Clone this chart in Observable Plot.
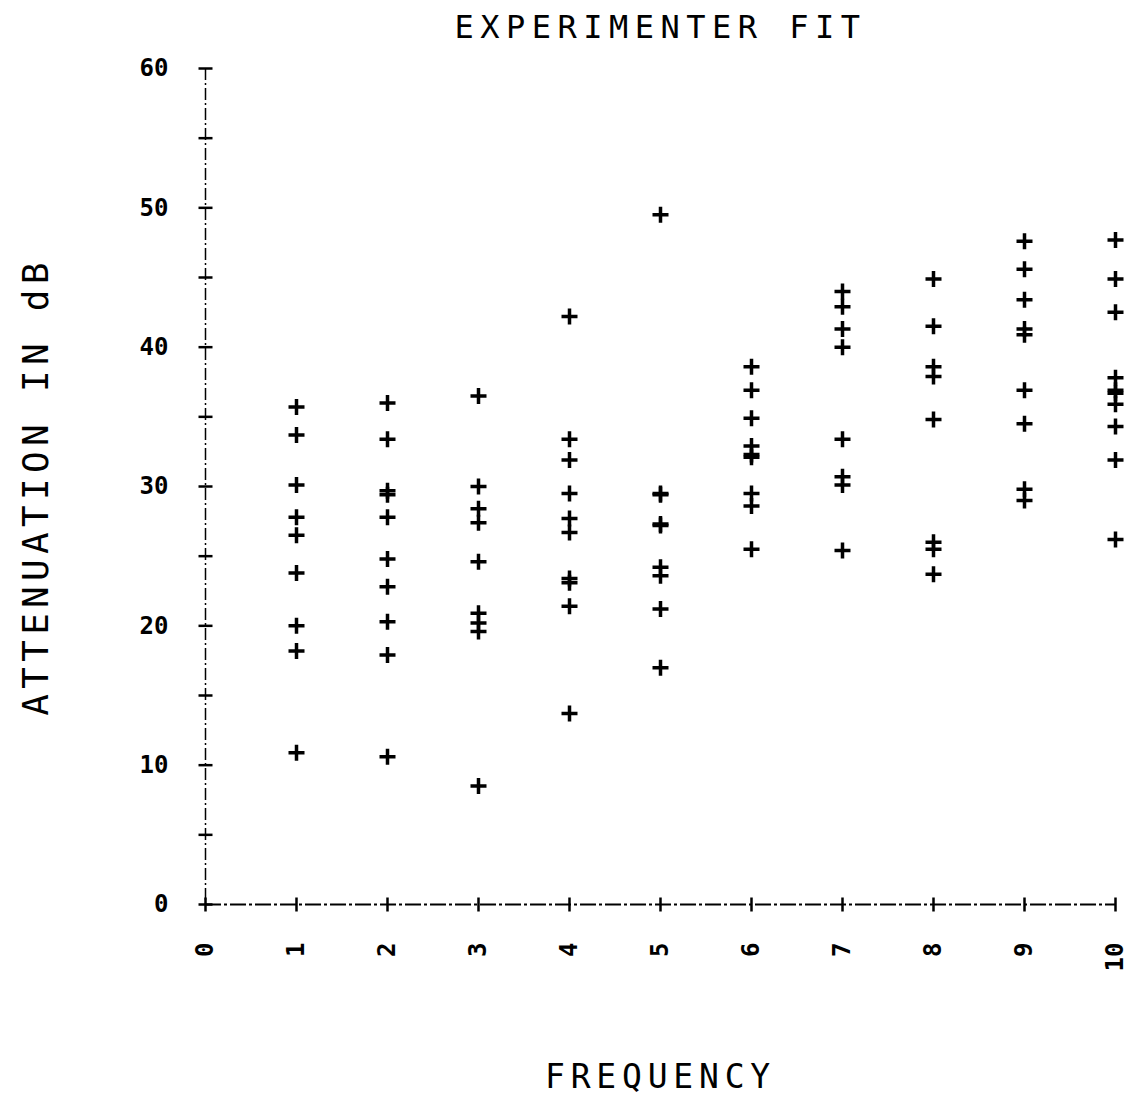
<!DOCTYPE html>
<html>
<head>
<meta charset="utf-8">
<script src="https://cdn.jsdelivr.net/npm/d3@7"></script>
<script src="https://cdn.jsdelivr.net/npm/@observablehq/plot@0.6"></script>
<style>
  html, body { margin: 0; padding: 0; background: #fff; }
  #chart svg { display: block; }
  g[aria-label="y-axis label"] text { letter-spacing: 5.3px; }
  g[aria-label="x-axis label"] text { letter-spacing: 5.8px; }
  g[aria-label="text"] text { letter-spacing: 6.5px; }
</style>
</head>
<body>
<div id="chart"></div>
<script>
// ---- data ----
const frequencies = [1, 2, 3, 4, 5, 6, 7, 8, 9, 10];
const atten1  = [35.7, 33.7, 30.1, 27.8, 26.5, 23.8, 20.0, 18.2, 10.9];
const atten2  = [36.0, 33.4, 29.7, 29.4, 27.8, 24.8, 22.8, 20.3, 17.9, 10.6];
const atten3  = [36.5, 30.0, 28.4, 27.4, 24.6, 20.9, 20.2, 19.6, 8.5];
const atten4  = [42.2, 33.4, 31.9, 29.5, 27.7, 26.7, 23.4, 23.1, 21.4, 13.7];
const atten5  = [49.5, 29.5, 29.4, 27.3, 27.2, 24.2, 23.6, 21.2, 17.0];
const atten6  = [38.6, 36.9, 34.9, 32.9, 32.3, 32.1, 29.5, 28.6, 25.5];
const atten7  = [44.0, 42.9, 41.3, 40.0, 33.4, 30.7, 30.1, 25.4];
const atten8  = [44.9, 41.5, 38.6, 37.9, 34.8, 26.0, 25.5, 23.7];
const atten9  = [47.6, 45.6, 43.4, 41.3, 40.9, 36.9, 34.5, 29.8, 29.0];
const atten10 = [47.7, 44.9, 42.5, 37.8, 36.9, 36.7, 35.9, 34.3, 31.9, 26.2];
const attenuations = [atten1, atten2, atten3, atten4, atten5, atten6, atten7, atten8, atten9, atten10];

const xTicks = [0, 1, 2, 3, 4, 5, 6, 7, 8, 9, 10];
const yLabelTicks = [0, 10, 20, 30, 40, 50, 60];
const yTickMarks = [0, 5, 10, 15, 20, 25, 30, 35, 40, 45, 50, 55, 60];
const titleText = "EXPERIMENTER FIT";
const xLabel = "FREQUENCY";
const yLabel = "ATTENUATION IN dB";

// table built from the arrays
const points = frequencies.flatMap((f, i) => attenuations[i].map(a => ({f, a})));

// custom stroked symbols
const plusSym = {draw(ctx, size) { const r = Math.sqrt(size / Math.PI);
  ctx.moveTo(-r, 0); ctx.lineTo(r, 0); ctx.moveTo(0, -r); ctx.lineTo(0, r); }};
const hSym = {draw(ctx, size) { const r = Math.sqrt(size / Math.PI);
  ctx.moveTo(-r, 0); ctx.lineTo(r, 0); }};
const vSym = {draw(ctx, size) { const r = Math.sqrt(size / Math.PI);
  ctx.moveTo(0, -r); ctx.lineTo(0, r); }};

const chart = Plot.plot({
  width: 1131,
  height: 1099,
  marginTop: 68,
  marginLeft: 205,
  marginRight: 16,
  marginBottom: 195,
  style: {fontFamily: "'DejaVu Sans Mono', monospace", color: "black", background: "white"},
  x: {domain: [0, 10]},
  y: {domain: [0, 60]},
  marks: [
    Plot.ruleX([0], {stroke: "black", strokeWidth: 1.5, strokeDasharray: "12,3,2,3"}),
    Plot.ruleY([0], {stroke: "black", strokeWidth: 2, strokeDasharray: "16,3,3,3"}),
    Plot.dot(yTickMarks, {x: () => 0, y: d => d, symbol: hSym, r: 7, stroke: "black", strokeWidth: 2.5}),
    Plot.dot(xTicks, {x: d => d, y: () => 0, symbol: vSym, r: 7, stroke: "black", strokeWidth: 2.5}),
    Plot.axisY(yLabelTicks, {
      tickSize: 0, tickPadding: 37, fontSize: 24, fontWeight: "bold", label: null
    }),
    Plot.axisY([], {
      tickSize: 0, fontSize: 36,
      label: yLabel, labelAnchor: "center", labelOffset: 183, labelArrow: false
    }),
    Plot.axisX(xTicks, {
      tickSize: 0, tickPadding: 38, tickRotate: -90, fontSize: 24, fontWeight: "bold",
      tickFormat: d => String(d), label: null
    }),
    Plot.axisX([], {
      tickSize: 0, fontSize: 33,
      label: xLabel, labelAnchor: "center", labelOffset: 183, labelArrow: false
    }),
    Plot.dot(points, {x: "f", y: "a", symbol: plusSym, r: 8, stroke: "black", strokeWidth: 3.5}),
    Plot.text([titleText], {text: d => d, frameAnchor: "top", dy: -53, lineAnchor: "top", fontSize: 32})
  ]
});
document.getElementById("chart").appendChild(chart);
</script>
</body>
</html>
